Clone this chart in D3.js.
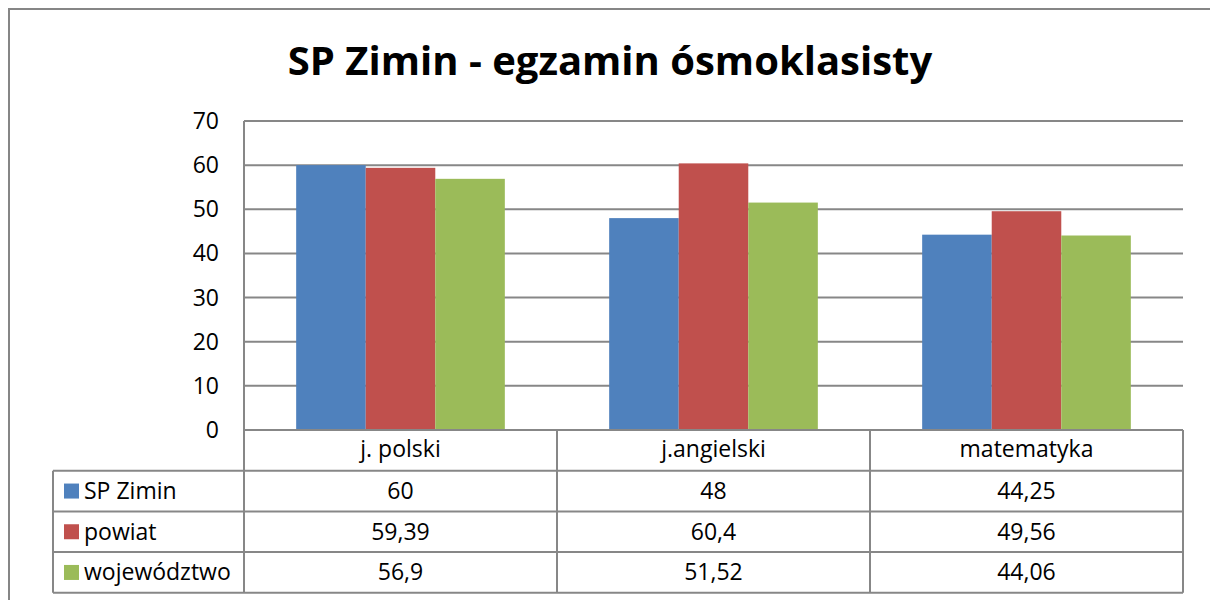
<!DOCTYPE html>
<html>
    <head>
        <meta charset="utf-8"/>
        <script src="https://cdnjs.cloudflare.com/ajax/libs/d3/7.8.5/d3.min.js"></script>
        <style>
            body { margin: 0; background: #fff; }
            text { font-family: "Open Sans", Lato, sans-serif; fill: #000; }
        </style>
    </head>
    <body>
        <script>
            const title = "SP Zimin - egzamin ósmoklasisty";
            const categories = ["j. polski", "j.angielski", "matematyka"];
            const seriesNames = ["SP Zimin", "powiat", "województwo"];
            const spZimin = [60, 48, 44.25];
            const powiat = [59.39, 60.4, 49.56];
            const wojewodztwo = [56.9, 51.52, 44.06];
            const yTicks = [0, 10, 20, 30, 40, 50, 60, 70];
            const colors = ["#4f81bd", "#c0504d", "#9bbb59"];

            function draw() {
                const width = 1210, height = 600;
                const plot = {left: 244, right: 1183, top: 121, bottom: 430};
                const rowH = 40.7;
                const legendLeft = 53;
                const fs = 23;

                const series = [spZimin, powiat, wojewodztwo];
                const fmt = v => String(v).replace(".", ",");

                const svg = d3.select("body").append("svg")
                    .attr("width", width)
                    .attr("height", height);

                // outer chart frame
                svg.append("rect")
                    .attr("x", 9).attr("y", 9)
                    .attr("width", width).attr("height", height)
                    .attr("fill", "none")
                    .attr("stroke", "#868686")
                    .attr("stroke-width", 2);

                svg.append("text")
                    .attr("x", 610).attr("y", 75)
                    .attr("text-anchor", "middle")
                    .attr("font-weight", "bold")
                    .attr("font-size", 40)
                    .text(title);

                const y = d3.scaleLinear()
                    .domain([0, 70])
                    .range([plot.bottom, plot.top]);

                const x0 = d3.scaleBand()
                    .domain(categories)
                    .range([plot.left, plot.right]);

                const gap = x0.bandwidth() / 3;
                const x1 = d3.scaleBand()
                    .domain(seriesNames)
                    .range([gap / 2, x0.bandwidth() - gap / 2]);

                // gridlines
                svg.append("g")
                    .selectAll("line")
                    .data(yTicks.filter(d => d > 0))
                    .join("line")
                    .attr("x1", plot.left).attr("x2", plot.right)
                    .attr("y1", d => y(d)).attr("y2", d => y(d))
                    .attr("stroke", "#878787")
                    .attr("stroke-width", 2);

                // y tick labels
                svg.append("g")
                    .selectAll("text")
                    .data(yTicks)
                    .join("text")
                    .attr("x", 219)
                    .attr("y", d => y(d) + 8)
                    .attr("text-anchor", "end")
                    .attr("font-size", fs)
                    .text(d => d);

                // bars
                svg.append("g")
                    .selectAll("g")
                    .data(categories)
                    .join("g")
                    .attr("transform", d => `translate(${x0(d)},0)`)
                    .selectAll("rect")
                    .data((d, i) => seriesNames.map((s, j) => ({s, j, v: series[j][i]})))
                    .join("rect")
                    .attr("x", d => x1(d.s))
                    .attr("width", x1.bandwidth())
                    .attr("y", d => y(d.v))
                    .attr("height", d => y(0) - y(d.v))
                    .attr("fill", d => colors[d.j]);

                // data table
                const tableBottom = plot.bottom + rowH * 4;
                const grid = svg.append("g")
                    .attr("stroke", "#878787")
                    .attr("stroke-width", 2);

                grid.append("line")
                    .attr("x1", plot.left).attr("x2", plot.right)
                    .attr("y1", plot.bottom).attr("y2", plot.bottom);
                for (let r = 1; r <= 4; r++) {
                    grid.append("line")
                        .attr("x1", legendLeft).attr("x2", plot.right)
                        .attr("y1", plot.bottom + rowH * r).attr("y2", plot.bottom + rowH * r);
                }
                grid.append("line")
                    .attr("x1", plot.left).attr("x2", plot.left)
                    .attr("y1", plot.top).attr("y2", tableBottom);
                grid.append("line")
                    .attr("x1", legendLeft).attr("x2", legendLeft)
                    .attr("y1", plot.bottom + rowH).attr("y2", tableBottom);
                categories.forEach(c => {
                    grid.append("line")
                        .attr("x1", x0(c) + x0.bandwidth()).attr("x2", x0(c) + x0.bandwidth())
                        .attr("y1", plot.bottom).attr("y2", tableBottom);
                });

                // category header
                svg.append("g")
                    .selectAll("text")
                    .data(categories)
                    .join("text")
                    .attr("x", d => x0(d) + x0.bandwidth() / 2)
                    .attr("y", plot.bottom + rowH / 2 + 7)
                    .attr("text-anchor", "middle")
                    .attr("font-size", fs)
                    .text(d => d);

                // legend cells and values
                seriesNames.forEach((s, j) => {
                    const cy = plot.bottom + rowH * (j + 1) + rowH / 2;
                    svg.append("rect")
                        .attr("x", 64).attr("y", cy - 7.5)
                        .attr("width", 15).attr("height", 15)
                        .attr("fill", colors[j]);
                    svg.append("text")
                        .attr("x", 84).attr("y", cy + 8)
                        .attr("font-size", fs)
                        .text(s);
                    svg.append("g")
                        .selectAll("text")
                        .data(categories)
                        .join("text")
                        .attr("x", d => x0(d) + x0.bandwidth() / 2)
                        .attr("y", cy + 8)
                        .attr("text-anchor", "middle")
                        .attr("font-size", fs)
                        .text((d, i) => fmt(series[j][i]));
                });
            }
            draw();
        </script>
    </body>
</html>
